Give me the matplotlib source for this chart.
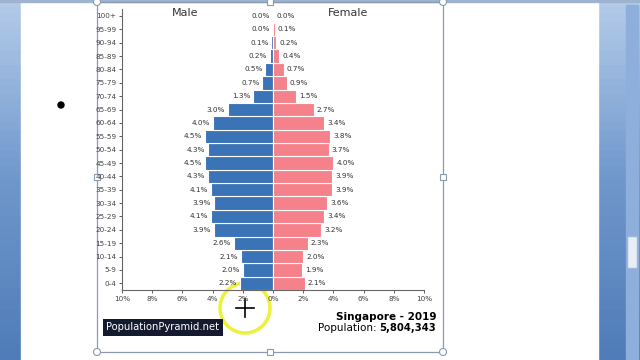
import numpy as np
import matplotlib.pyplot as plt
from matplotlib.patches import Rectangle, Circle
from matplotlib.colors import LinearSegmentedColormap

# Singapore 2019 population pyramid (% of total population)
age_groups = ['0-4', '5-9', '10-14', '15-19', '20-24', '25-29', '30-34', '35-39',
              '40-44', '45-49', '50-54', '55-59', '60-64', '65-69', '70-74',
              '75-79', '80-84', '85-89', '90-94', '95-99', '100+']
male = [2.2, 2.0, 2.1, 2.6, 3.9, 4.1, 3.9, 4.1, 4.3, 4.5, 4.3, 4.5, 4.0, 3.0,
        1.3, 0.7, 0.5, 0.2, 0.1, 0.0, 0.0]
female = [2.1, 1.9, 2.0, 2.3, 3.2, 3.4, 3.6, 3.9, 3.9, 4.0, 3.7, 3.8, 3.4, 2.7,
          1.5, 0.9, 0.7, 0.4, 0.2, 0.1, 0.0]
x_ticks = [-10, -8, -6, -4, -2, 0, 2, 4, 6, 8, 10]
x_tick_labels = ['10%', '8%', '6%', '4%', '2%', '0%', '2%', '4%', '6%', '8%', '10%']

male_color = '#3b74b6'
female_color = '#f5828a'

fig = plt.figure(figsize=(6.4, 3.6), dpi=100)

# background: the word-processor window around the chart (pixel coords)
bg = fig.add_axes([0, 0, 1, 1])
bg.axis('off')
blue = LinearSegmentedColormap.from_list('side', ['#b3cbe9', '#6f97cc', '#4f7cb8'])
grad = np.linspace(0, 1, 50).reshape(-1, 1)
bg.imshow(grad, cmap=blue, extent=[0, 21, 360, 0], aspect='auto')
bg.imshow(grad, cmap=blue, extent=[598, 640, 360, 0], aspect='auto')
bg.add_patch(Rectangle((21, 2), 577, 358, color='white'))
bg.add_patch(Rectangle((0, 0), 640, 2, color='#9db3cf'))
bg.add_patch(Rectangle((626, 5), 12, 355, color='#8eaedb'))
bg.add_patch(Rectangle((627, 236), 10, 32, color='#e8eef7', ec='#9fb5d3'))
bg.set_xlim(0, 640)
bg.set_ylim(360, 0)

# selection frame of the picture
bg.add_patch(Rectangle((97, 2), 346, 350, fill=False, ec='#8a9bb0', lw=0.9))
for hx, hy in [(97, 2), (443, 2), (97, 352), (443, 352)]:
    bg.add_patch(Circle((hx, hy), 3.5, fc='white', ec='#8a9bb0', lw=0.8))
for hx, hy in [(270, 2), (97, 177), (443, 177), (270, 352)]:
    bg.add_patch(Rectangle((hx - 3, hy - 3), 6, 6, fc='white', ec='#8a9bb0', lw=0.8))
bg.add_patch(Circle((61, 105), 3, color='black'))

# pyramid
ax = fig.add_axes([122 / 640, 1 - 290 / 360, 302 / 640, 280.7 / 360])
y = np.arange(len(age_groups))
ax.barh(y, [-m for m in male], height=1.0, color=male_color, edgecolor='white', linewidth=0.8)
ax.barh(y, female, height=1.0, color=female_color, edgecolor='white', linewidth=0.8)

for i, (m, f) in enumerate(zip(male, female)):
    ax.text(-m - 0.2, i, f'{m:.1f}%', ha='right', va='center', fontsize=5.2, color='#333333')
    ax.text(f + 0.2, i, f'{f:.1f}%', ha='left', va='center', fontsize=5.2, color='#333333')

ax.set_xlim(-10, 10)
ax.set_ylim(-0.5, len(age_groups) - 0.5)
ax.set_xticks(x_ticks)
ax.set_xticklabels(x_tick_labels)
ax.set_yticks(y)
ax.set_yticklabels(age_groups)
ax.tick_params(axis='both', labelsize=5.2, colors='#444444', length=2.5, width=0.6, pad=1.5)
for side in ['top', 'right']:
    ax.spines[side].set_visible(False)
for side in ['left', 'bottom']:
    ax.spines[side].set_color('#666666')
    ax.spines[side].set_linewidth(0.8)
ax.patch.set_alpha(0)

fig.text(185 / 640, 1 - 13 / 360, 'Male', ha='center', va='center', fontsize=8, color='#333333')
fig.text(348 / 640, 1 - 13 / 360, 'Female', ha='center', va='center', fontsize=8, color='#333333')

# watermark and caption
fig.text(106 / 640, 1 - 327 / 360, 'PopulationPyramid.net', ha='left', va='center', fontsize=7.2,
         color='white', bbox=dict(boxstyle='square,pad=0.35', fc='#141b2e', ec='none'))
fig.text(436 / 640, 1 - 317 / 360, 'Singapore - 2019', ha='right', va='center', fontsize=7.5,
         fontweight='bold', color='black')
num = fig.text(436 / 640, 1 - 328 / 360, '5,804,343', ha='right', va='center', fontsize=7.2,
               fontweight='bold', color='black')

# put "Population:" just left of the bold number
fig.canvas.draw()
bb = num.get_window_extent()
fig.text(bb.x0 / fig.bbox.width, 1 - 328 / 360, 'Population: ', ha='right', va='center',
         fontsize=7.5, color='black')

# mouse cursor highlight from the recording
bg.add_patch(Circle((245, 308), 25, fill=False, ec='#eef03a', lw=2.5))
bg.plot([236, 254], [308, 308], color='black', lw=1.2)
bg.plot([245, 245], [299, 317], color='black', lw=1.2)

fig.savefig('out.png', dpi=100)
